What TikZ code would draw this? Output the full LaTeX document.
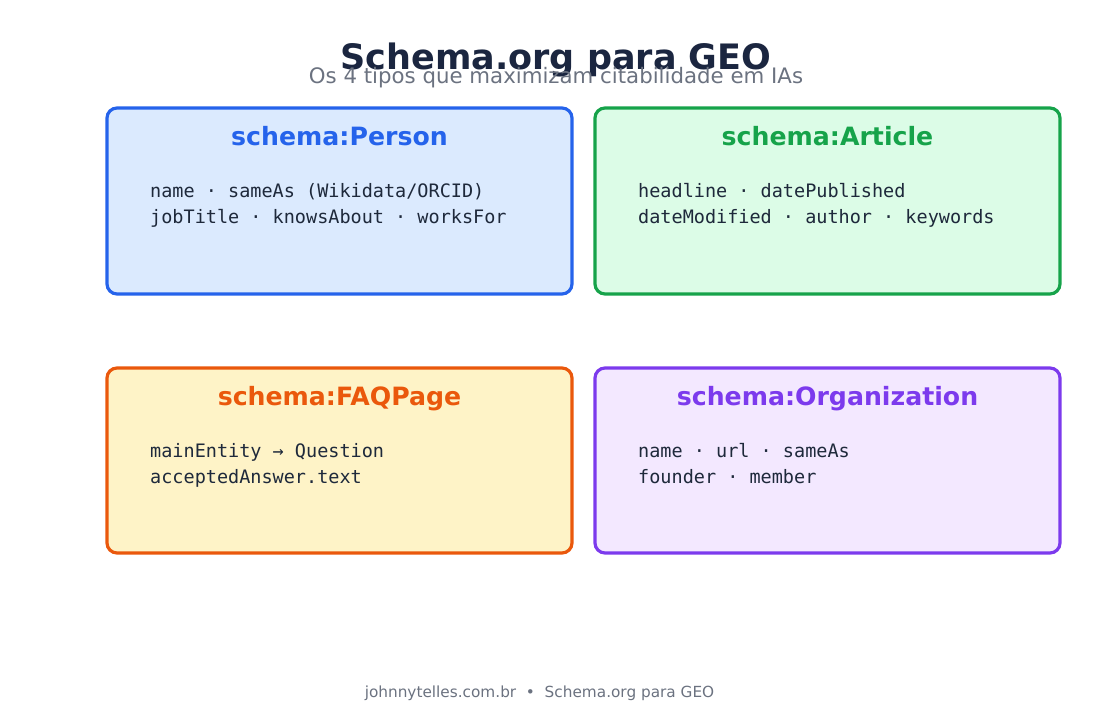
\documentclass[tikz,border=0pt]{standalone}
\usepackage{fontspec}
\setmainfont{DejaVu Sans}
\newfontfamily\monof{DejaVu Sans Mono}
\definecolor{titlec}{HTML}{1B2640}
\definecolor{subc}{HTML}{6B7280}
\definecolor{bodyc}{HTML}{1E293B}
\definecolor{blueb}{HTML}{2563EB}\definecolor{bluef}{HTML}{DBEAFE}
\definecolor{greenb}{HTML}{16A34A}\definecolor{greenf}{HTML}{DCFCE7}
\definecolor{orangeb}{HTML}{EA580C}\definecolor{orangef}{HTML}{FEF3C7}
\definecolor{purpleb}{HTML}{7C3AED}\definecolor{purplef}{HTML}{F3E8FF}
\tikzset{
  card/.style={draw, line width=3.2pt, rounded corners=10pt},
  cardhead/.style={anchor=base, font=\fontsize{25.2}{29}\selectfont\bfseries},
  cardbody/.style={anchor=base west, text=bodyc, font=\monof\fontsize{18.5}{22}\selectfont, inner sep=0pt},
}
\begin{document}
\begin{tikzpicture}[x=1pt,y=-1pt]
\useasboundingbox (0,0) rectangle (1113,713);
\node[anchor=base, text=titlec, font=\fontsize{35}{40}\selectfont\bfseries] (title) at (556,69) {Schema.org para GEO};
\node[anchor=base, text=subc, font=\fontsize{21.3}{25}\selectfont] (sub) at (556,83) {Os 4 tipos que maximizam citabilidade em IAs};

% Person
\draw[card, draw=blueb, fill=bluef] (107,108) rectangle (572,294);
\node[cardhead, text=blueb] (hperson) at (339.5,145) {schema:Person};
\node[cardbody] (bperson1) at (150,197) {name · sameAs (Wikidata/ORCID)};
\node[cardbody] (bperson2) at (150,223) {jobTitle · knowsAbout · worksFor};

% Article
\draw[card, draw=greenb, fill=greenf] (595,108) rectangle (1060,294);
\node[cardhead, text=greenb] (harticle) at (827.5,145) {schema:Article};
\node[cardbody] (barticle1) at (638,197) {headline · datePublished};
\node[cardbody] (barticle2) at (638,223) {dateModified · author · keywords};

% FAQPage
\draw[card, draw=orangeb, fill=orangef] (107,368) rectangle (572,553);
\node[cardhead, text=orangeb] (hfaq) at (339.5,405) {schema:FAQPage};
\node[cardbody] (bfaq1) at (150,457) {mainEntity → Question};
\node[cardbody] (bfaq2) at (150,483) {acceptedAnswer.text};

% Organization
\draw[card, draw=purpleb, fill=purplef] (595,368) rectangle (1060,553);
\node[cardhead, text=purpleb] (horg) at (827.5,405) {schema:Organization};
\node[cardbody] (borg1) at (638,457) {name · url · sameAs};
\node[cardbody] (borg2) at (638,483) {founder · member};

\node[anchor=base, text=subc, font=\fontsize{15.3}{18}\selectfont] (foot) at (539.5,697) {johnnytelles.com.br\ \ •\ \ Schema.org para GEO};
\end{tikzpicture}
\end{document}
